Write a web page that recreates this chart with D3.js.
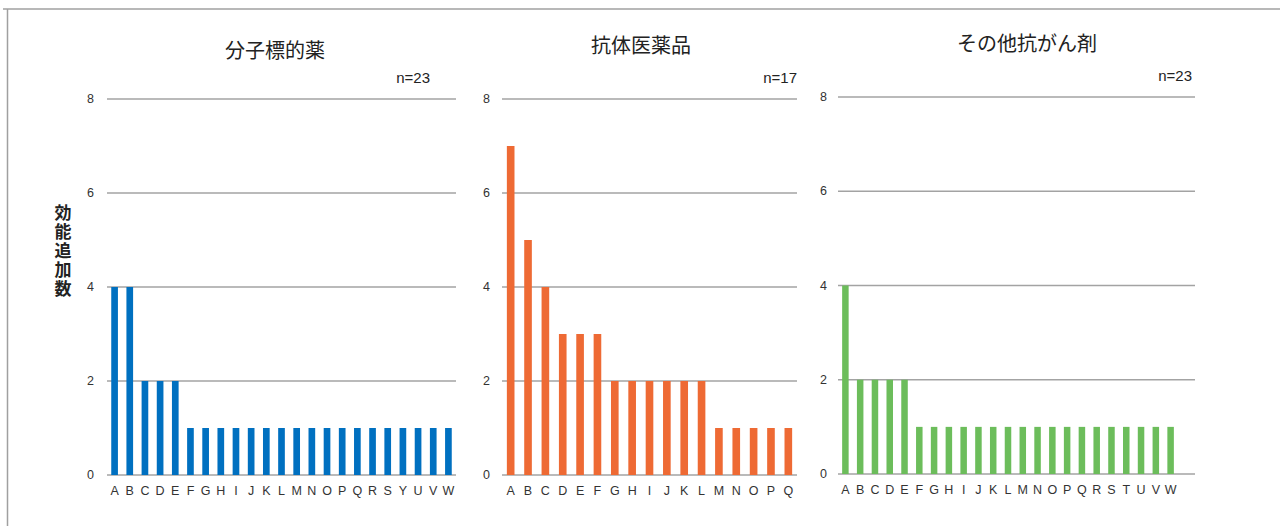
<!DOCTYPE html>
<html lang="ja">
<head>
  <meta charset="UTF-8" />
  <title>効能追加数</title>
  <script src="https://d3js.org/d3.v7.min.js"></script>
  <style>
    body {
      margin: 0;
      background: #fff;
      font-family: 'Noto Sans CJK JP', 'Noto Sans', sans-serif;
    }
    svg { display: block; }
    .grid line { stroke: #a3a3a3; stroke-width: 1.5px; }
    .tick-label { font-family: 'Liberation Sans', Arial, sans-serif; font-size: 12.5px; fill: #333; }
    .title { font-size: 20px; fill: #222; }
    .n-label { font-family: 'Liberation Sans', Arial, sans-serif; font-size: 15px; fill: #222; }
    .y-title { font-size: 17px; font-weight: bold; fill: #222; writing-mode: vertical-rl; letter-spacing: 2px; }
  </style>
</head>
<body>
  <svg id="chart"></svg>
  <script>
    // panel data
    const titles = ["分子標的薬", "抗体医薬品", "その他抗がん剤"];
    const nLabels = ["n=23", "n=17", "n=23"];

    const cats1 = ["A","B","C","D","E","F","G","H","I","J","K","L","M","N","O","P","Q","R","S","Y","U","V","W"];
    const vals1 = [4,4,2,2,2,1,1,1,1,1,1,1,1,1,1,1,1,1,1,1,1,1,1];

    const cats2 = ["A","B","C","D","E","F","G","H","I","J","K","L","M","N","O","P","Q"];
    const vals2 = [7,5,4,3,3,3,2,2,2,2,2,2,1,1,1,1,1];

    const cats3 = ["A","B","C","D","E","F","G","H","I","J","K","L","M","N","O","P","Q","R","S","T","U","V","W"];
    const vals3 = [4,2,2,2,2,1,1,1,1,1,1,1,1,1,1,1,1,1,1,1,1,1,1];

    const yTicks = [0, 2, 4, 6, 8];
    const colors = ["#0070c0", "#ee6a34", "#6cbd5b"];
    const yLabel = "効能追加数";

    const width = 1280, height = 526;
    const svg = d3.select("#chart").attr("width", width).attr("height", height);

    // frame lines (top and left)
    svg.append("line").attr("x1", 3).attr("x2", width).attr("y1", 9).attr("y2", 9)
      .attr("stroke", "#a0a0a0").attr("stroke-width", 1.5);
    svg.append("line").attr("x1", 7.5).attr("x2", 7.5).attr("y1", 9).attr("y2", height)
      .attr("stroke", "#a0a0a0").attr("stroke-width", 1.5);

    // layout of each panel
    const panels = [
      { cats: cats1, vals: vals1, gx0: 107, gx1: 456, bx1: 456, y0: 475, y8: 99, tx: 275, ty: 58, nx: 430, ny: 83, lx: 94 },
      { cats: cats2, vals: vals2, gx0: 502, gx1: 797, bx1: 797, y0: 475, y8: 99, tx: 641, ty: 53, nx: 797, ny: 83, lx: 490 },
      { cats: cats3, vals: vals3, gx0: 838, gx1: 1195, bx1: 1178, y0: 474, y8: 97, tx: 1027, ty: 51, nx: 1192, ny: 81, lx: 827 }
    ];

    panels.forEach((p, i) => {
      const g = svg.append("g");
      const x = d3.scaleBand().domain(p.cats).range([p.gx0, p.bx1]).paddingInner(0.56).paddingOuter(0.28);
      const y = d3.scaleLinear().domain([0, 8]).range([p.y0, p.y8]);

      // gridlines
      g.append("g").attr("class", "grid").selectAll("line")
        .data(yTicks).join("line")
        .attr("x1", p.gx0).attr("x2", p.gx1)
        .attr("y1", d => y(d)).attr("y2", d => y(d));

      // y tick labels
      g.selectAll(".ylab").data(yTicks).join("text")
        .attr("class", "tick-label")
        .attr("x", p.lx).attr("y", d => y(d) + 4)
        .attr("text-anchor", "end")
        .text(d => d);

      // bars
      g.selectAll("rect").data(p.cats).join("rect")
        .attr("x", d => x(d))
        .attr("width", x.bandwidth())
        .attr("y", (d, j) => y(p.vals[j]))
        .attr("height", (d, j) => y(0) - y(p.vals[j]))
        .attr("fill", colors[i]);

      // x labels
      g.selectAll(".xlab").data(p.cats).join("text")
        .attr("class", "tick-label")
        .attr("x", d => x(d) + x.bandwidth() / 2)
        .attr("y", p.y0 + 20)
        .attr("text-anchor", "middle")
        .text(d => d);

      // title and n
      g.append("text").attr("class", "title")
        .attr("x", p.tx).attr("y", p.ty).attr("text-anchor", "middle")
        .text(titles[i]);
      g.append("text").attr("class", "n-label")
        .attr("x", p.nx).attr("y", p.ny).attr("text-anchor", "end")
        .text(nLabels[i]);
    });

    // vertical y axis label
    svg.append("text")
      .attr("class", "y-title")
      .attr("x", 63).attr("y", 204)
      .text(yLabel);
  </script>
</body>
</html>
